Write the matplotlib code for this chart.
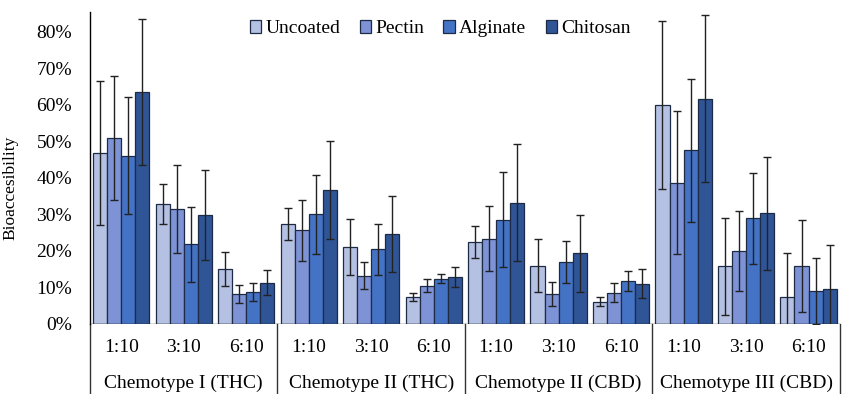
import numpy as np
import matplotlib.pyplot as plt
from matplotlib.patches import Patch

chemotypes = ["Chemotype I (THC)", "Chemotype II (THC)",
              "Chemotype II (CBD)", "Chemotype III (CBD)"]
ratios = ["1:10", "3:10", "6:10"]
coatings = ["Uncoated", "Pectin", "Alginate", "Chitosan"]
colors = ["#B4C1E3", "#7D93D6", "#4472C4", "#2F5597"]

# bioaccessibility (%) per chemotype x ratio, one list per coating
uncoated = [46.7, 32.8, 15.0, 27.4, 21.0, 7.3, 22.4, 16.0, 6.1, 59.9, 15.8, 7.5]
pectin = [51.0, 31.5, 8.2, 25.6, 13.2, 10.5, 23.4, 8.3, 8.6, 38.7, 19.9, 16.0]
alginate = [46.0, 21.8, 8.8, 30.0, 20.4, 12.4, 28.5, 16.9, 11.8, 47.5, 28.9, 9.1]
chitosan = [63.6, 29.8, 11.3, 36.7, 24.6, 12.9, 33.2, 19.3, 11.0, 61.7, 30.3, 9.7]

# error bar half-widths (%)
uncoated_err = [19.7, 5.5, 4.7, 4.3, 7.7, 1.1, 4.3, 7.2, 1.2, 23.0, 13.3, 11.9]
pectin_err = [17.0, 12.0, 2.5, 8.3, 3.7, 1.7, 8.8, 3.3, 2.7, 19.6, 10.9, 12.6]
alginate_err = [16.0, 10.2, 2.5, 10.8, 7.0, 1.3, 13.0, 5.8, 2.7, 19.6, 12.5, 9.0]
chitosan_err = [20.0, 12.3, 3.5, 13.3, 10.4, 2.7, 16.0, 10.5, 4.0, 22.8, 15.5, 11.8]

series = [uncoated, pectin, alginate, chitosan]
errors = [uncoated_err, pectin_err, alginate_err, chitosan_err]

plt.rcParams["font.family"] = ["Liberation Serif", "DejaVu Serif"]

fig = plt.figure(figsize=(8.44, 3.94), dpi=100)
ax = fig.add_axes([0.1066, 0.1777, 0.8884, 0.7918])

x = np.arange(len(uncoated))
width = 0.225
for i, (vals, errs) in enumerate(zip(series, errors)):
    pos = x + (i - 1.5) * width
    ax.bar(pos, np.array(vals) / 100, width, color=colors[i],
           edgecolor="#1E2B45", linewidth=0.9, label=coatings[i], zorder=2)
    ax.errorbar(pos, np.array(vals) / 100, yerr=np.array(errs) / 100,
                fmt="none", ecolor="#222222", elinewidth=1.0,
                capsize=3.2, capthick=1.0, zorder=3)

ax.set_xlim(-0.5, 11.5)
ax.set_ylim(0, 0.854)
ax.set_yticks(np.arange(0, 0.81, 0.1))
ax.set_yticklabels([f"{int(round(v * 100))}%" for v in np.arange(0, 0.81, 0.1)])
ax.tick_params(axis="y", length=0, pad=13, labelsize=14)
ax.set_ylabel("Bioaccesibility", fontsize=12.5)
ax.yaxis.set_label_coords(-0.096, 0.436)

ax.set_xticks(x)
ax.set_xticklabels(ratios * len(chemotypes))
ax.tick_params(axis="x", length=0, pad=11, labelsize=14)

for side in ["top", "right", "bottom"]:
    ax.spines[side].set_visible(False)
ax.spines["left"].set_linewidth(1.0)
ax.axhline(0, color="#333333", linewidth=1.0, zorder=4)

# chemotype separators and labels below the axis
trans = ax.get_xaxis_transform()
for k in range(len(chemotypes) + 1):
    sx = -0.5 + 3 * k
    ax.plot([sx, sx], [0, -0.23], transform=trans, color="#333333",
            linewidth=1.0, clip_on=False)
for k, name in enumerate(chemotypes):
    ax.text(1 + 3 * k, -0.19, name, transform=trans, ha="center",
            va="center", fontsize=14)

handles = [Patch(facecolor=c, edgecolor="#1E2B45", linewidth=0.9)
           for c in colors]
ax.legend(handles, coatings, loc="center", bbox_to_anchor=(0.467, 0.946),
          ncol=4, frameon=False, fontsize=14, handlelength=0.6,
          handleheight=0.6, handletextpad=0.2, columnspacing=1.0)

fig.savefig("out.png", dpi=100)
